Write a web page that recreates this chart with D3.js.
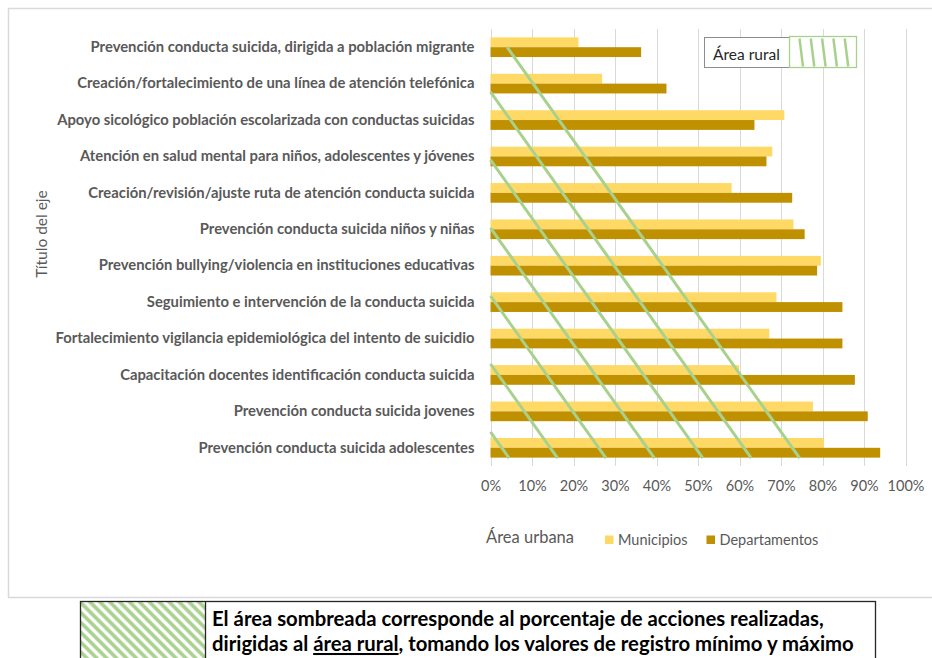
<!DOCTYPE html>
<html>
<head>
<meta charset="utf-8">
<script src="https://cdn.jsdelivr.net/npm/d3@7"></script>
<style>
  html, body { margin: 0; padding: 0; background: #fff; }
  svg { display: block; }
</style>
</head>
<body>
<svg id="chart" width="932" height="658"></svg>
<script>
// ---------------- DATA ----------------
const categories = [
  "Prevención conducta suicida, dirigida a población migrante",
  "Creación/fortalecimiento de una línea de atención telefónica",
  "Apoyo sicológico población escolarizada con conductas suicidas",
  "Atención en salud mental para niños, adolescentes y jóvenes",
  "Creación/revisión/ajuste ruta de atención conducta suicida",
  "Prevención conducta suicida niños y niñas",
  "Prevención bullying/violencia en instituciones educativas",
  "Seguimiento e intervención de la conducta suicida",
  "Fortalecimiento vigilancia epidemiológica del intento de suicidio",
  "Capacitación docentes identificación conducta suicida",
  "Prevención conducta suicida jovenes",
  "Prevención conducta suicida adolescentes"
];
const municipios    = [21.2, 26.9, 70.8, 67.9, 58.1, 73.0, 79.6, 68.9, 67.2, 59.9, 77.7, 80.3];
const departamentos = [36.3, 42.4, 63.6, 66.5, 72.7, 75.7, 78.7, 84.8, 84.8, 87.8, 90.9, 93.9];
const xTicks = [0, 10, 20, 30, 40, 50, 60, 70, 80, 90, 100];
// rural shaded area: minimum (top) and maximum (bottom) registered values, in %
const ruralRange = [4.0, 74.5];
const seriesNames = ["Municipios", "Departamentos"];
const colors = ["#FFD966", "#BF9000"];
const yAxisTitle = "Título del eje";
const urbanLegendTitle = "Área urbana";
const ruralLegendTitle = "Área rural";
const noteLine1 = "El área sombreada corresponde al porcentaje de acciones realizadas,";
const noteLine2 = ["dirigidas al ", "área rural", ", tomando los valores de registro mínimo y máximo"];

// ---------------- LAYOUT ----------------
const svg = d3.select("#chart");
const plot = { left: 490.5, right: 905.5, top: 29, bottom: 466 };
const green = "#A9D18E";
const grey = "#595959";
const labelFont = "Lato, 'Open Sans', sans-serif";

const x = d3.scaleLinear().domain([0, 100]).range([plot.left, plot.right]);
const y = d3.scaleBand().domain(categories).range([plot.top, plot.bottom])
  .paddingInner(0.46).paddingOuter(0.23);
const sub = d3.scaleBand().domain(seriesNames).range([0, y.bandwidth()]);

// defs
const defs = svg.append("defs");
const pat = defs.append("pattern").attr("id", "hatch")
  .attr("patternUnits", "userSpaceOnUse").attr("width", 7).attr("height", 7)
  .attr("patternTransform", "rotate(-45)");
pat.append("rect").attr("width", 7).attr("height", 7).attr("fill", "#fff");
pat.append("line").attr("x1", 2).attr("y1", 0).attr("x2", 2).attr("y2", 7)
  .attr("stroke", green).attr("stroke-width", 3.6);

// outer chart border
svg.append("rect").attr("x", 8.5).attr("y", 8.5).attr("width", 940).attr("height", 589)
  .attr("fill", "#fff").attr("stroke", "#D9D9D9").attr("stroke-width", 1.5);

// gridlines
svg.append("g").selectAll("line").data(xTicks).join("line")
  .attr("x1", d => Math.round(x(d)) + 0.5).attr("x2", d => Math.round(x(d)) + 0.5)
  .attr("y1", plot.top).attr("y2", plot.bottom)
  .attr("stroke", "#D9D9D9").attr("stroke-width", 1);

// x axis tick labels
const xAxis = d3.axisBottom(x).tickValues(xTicks).tickFormat(d => d + "%").tickSize(0).tickPadding(0);
const gx = svg.append("g").attr("transform", `translate(0,${481})`).call(xAxis);
gx.select(".domain").remove();
gx.selectAll("text").attr("font-family", labelFont).attr("font-size", 14.5)
  .attr("fill", grey).attr("dy", "0.71em");

// y axis labels
const yAxis = d3.axisLeft(y).tickSize(0).tickPadding(16);
const gy = svg.append("g").attr("transform", `translate(${plot.left},0)`).call(yAxis);
gy.select(".domain").remove();
gy.selectAll("text").attr("font-family", labelFont).attr("font-size", 14.8)
  .attr("font-weight", 700).attr("fill", grey);

// bars
const rows = categories.map((c, i) => ({ c, vals: [municipios[i], departamentos[i]] }));
const gRows = svg.append("g").selectAll("g").data(rows).join("g")
  .attr("transform", d => `translate(0,${y(d.c)})`);
gRows.selectAll("rect").data(d => d.vals.map((v, j) => ({ v, s: seriesNames[j], j }))).join("rect")
  .attr("x", x(0)).attr("y", d => sub(d.s))
  .attr("width", d => x(d.v) - x(0)).attr("height", sub.bandwidth())
  .attr("fill", d => colors[d.j]);

// rural shaded area: diagonal hatch lines parallel to the min→max edge
const yTop = y(categories[0]) + y.bandwidth() / 2;
const yBot = y(categories[categories.length - 1]) + y.bandwidth() + 0.5;
const pA = [x(ruralRange[0]), yTop], pB = [x(ruralRange[1]), yBot];
const s = (pB[0] - pA[0]) / (pB[1] - pA[1]);   // dx per dy
const yA0 = pA[1] - (pA[0] - x(0)) / s;        // where edge line meets x=0
const spacing = 68;
const hatch = [];
for (let k = 0; ; k++) {
  const yk = yA0 + k * spacing;
  if (yk >= yBot - 10) break;
  const y1 = Math.max(yTop, yk);
  hatch.push({ x1: x(0) + s * (y1 - yk), y1, x2: x(0) + s * (yBot - yk), y2: yBot });
}
svg.append("g").selectAll("line").data(hatch).join("line")
  .attr("x1", d => d.x1).attr("y1", d => d.y1).attr("x2", d => d.x2).attr("y2", d => d.y2)
  .attr("stroke", green).attr("stroke-width", 3);

// y axis title
svg.append("text").attr("transform", `translate(47,234) rotate(-90)`)
  .attr("text-anchor", "middle").attr("font-family", labelFont).attr("font-size", 15.5)
  .attr("fill", grey).text(yAxisTitle);

// rural legend
const rl = svg.append("g");
rl.append("rect").attr("x", 704.5).attr("y", 37.5).attr("width", 85).attr("height", 30)
  .attr("fill", "#fff").attr("stroke", "#8C8C8C").attr("stroke-width", 1);
rl.append("rect").attr("x", 789.5).attr("y", 36.5).attr("width", 67).attr("height", 31)
  .attr("fill", "#fff").attr("stroke", green).attr("stroke-width", 1.3);
rl.append("text").attr("x", 713).attr("y", 60).attr("font-family", labelFont)
  .attr("font-size", 15.5).attr("fill", "#262626").text(ruralLegendTitle);
rl.selectAll("line.h").data([0, 1, 2, 3, 4]).join("line")
  .attr("x1", d => 799.5 + d * 11.3).attr("y1", 38.5)
  .attr("x2", d => 803 + d * 11.3).attr("y2", 66.5)
  .attr("stroke", green).attr("stroke-width", 2.5);

// urban legend
svg.append("text").attr("x", 486).attr("y", 543).attr("font-family", labelFont)
  .attr("font-size", 16.5).attr("fill", grey).text(urbanLegendTitle);
const legX = [605, 706.5];
const lg = svg.append("g").selectAll("g").data(seriesNames).join("g")
  .attr("transform", (d, i) => `translate(${legX[i]},535.5)`);
lg.append("rect").attr("width", 8.5).attr("height", 8.5).attr("fill", (d, i) => colors[i]);
lg.append("text").attr("x", 13).attr("y", 9).attr("font-family", labelFont)
  .attr("font-size", 14.5).attr("fill", grey).text(d => d);

// note box
const nb = svg.append("g");
nb.append("rect").attr("x", 80.5).attr("y", 601.5).attr("width", 125).attr("height", 70)
  .attr("fill", "url(#hatch)");
nb.append("rect").attr("x", 80.5).attr("y", 601.5).attr("width", 795).attr("height", 70)
  .attr("fill", "none").attr("stroke", "#262626").attr("stroke-width", 1.3);
nb.append("line").attr("x1", 205.5).attr("x2", 205.5).attr("y1", 601.5).attr("y2", 672)
  .attr("stroke", "#262626").attr("stroke-width", 1.3);
nb.append("text").attr("x", 212).attr("y", 626).attr("font-family", labelFont)
  .attr("font-size", 20.3).attr("font-weight", 700).attr("fill", "#000").text(noteLine1);
const t2 = nb.append("text").attr("x", 212).attr("y", 651).attr("font-family", labelFont)
  .attr("font-size", 20.3).attr("font-weight", 700).attr("fill", "#000");
t2.selectAll("tspan").data(noteLine2).join("tspan")
  .attr("text-decoration", (d, i) => i === 1 ? "underline" : null).text(d => d);
</script>
</body>
</html>
